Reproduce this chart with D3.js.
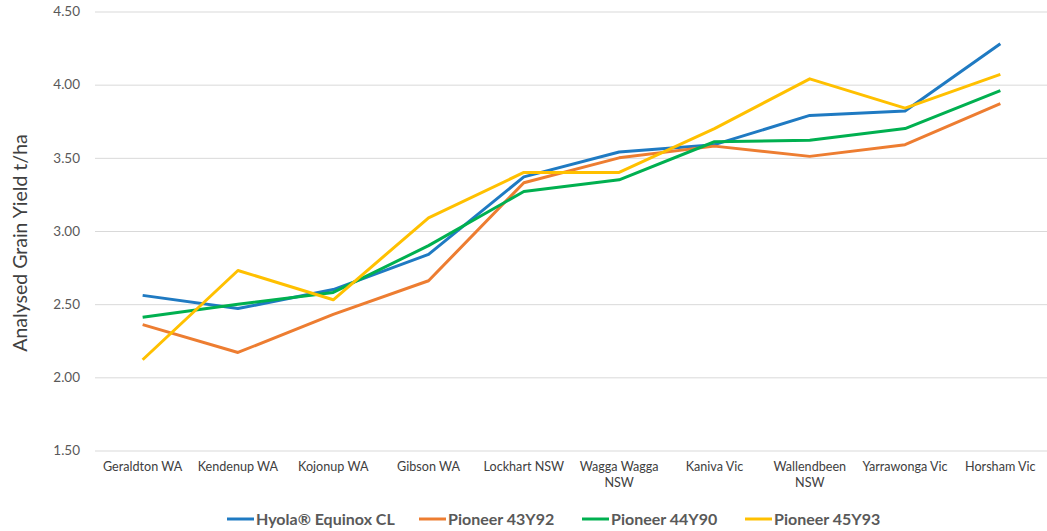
<!DOCTYPE html>
<html><head><meta charset="utf-8">
<script src="https://cdn.jsdelivr.net/npm/d3@7"></script>
<style>body{margin:0;background:#fff;} svg{display:block;font-family:Lato,"Open Sans",sans-serif;}</style>
</head><body>
<svg id="c" width="1047" height="531"></svg>
<script>
const categories = [["Geraldton WA"],["Kendenup WA"],["Kojonup WA"],["Gibson WA"],["Lockhart NSW"],["Wagga Wagga","NSW"],["Kaniva Vic"],["Wallendbeen","NSW"],["Yarrawonga Vic"],["Horsham Vic"]];
const seriesNames = ["Hyola® Equinox CL","Pioneer 43Y92","Pioneer 44Y90","Pioneer 45Y93"];
const hyola  = [2.56,2.47,2.60,2.84,3.37,3.54,3.59,3.79,3.82,4.28];
const p43y92 = [2.36,2.17,2.43,2.66,3.33,3.50,3.58,3.51,3.59,3.87];
const p44y90 = [2.41,2.50,2.58,2.90,3.27,3.35,3.61,3.62,3.70,3.96];
const p45y93 = [2.12,2.73,2.53,3.09,3.40,3.40,3.70,4.04,3.84,4.07];
const yTicks = [1.5,2.0,2.5,3.0,3.5,4.0,4.5];
const colors = ["#1F7AC2","#ED7D31","#00B050","#FFC000"];
const seriesVals = [hyola,p43y92,p44y90,p45y93];

const svg = d3.select("#c");
const x = d3.scaleBand().domain(d3.range(categories.length)).range([95,1048]);
const y = d3.scaleLinear().domain([1.5,4.5]).range([450.5,11.5]);

// gridlines
const yAxis = d3.axisLeft(y).tickValues(yTicks).tickFormat(d3.format(".2f")).tickSize(-(1048-95)).tickPadding(15);
const ga = svg.append("g").attr("transform","translate(95,0)").call(yAxis);
ga.select(".domain").remove();
ga.selectAll(".tick line").attr("stroke","#d9d9d9").attr("stroke-width",1);
ga.selectAll(".tick text").attr("fill","#595959").style("font-size","13.5px").style("font-family","Lato,'Open Sans',sans-serif");

// x labels
const gx = svg.append("g");
categories.forEach((c,i)=>{
  const t = gx.append("text").attr("x", x(i)+x.bandwidth()/2).attr("y",471)
    .attr("text-anchor","middle").attr("fill","#404040").style("font-size","12.6px");
  c.forEach((line,j)=>t.append("tspan").attr("x",x(i)+x.bandwidth()/2).attr("dy", j===0?0:16).text(line));
});

// y title
svg.append("text").attr("transform","translate(27,243) rotate(-90)").attr("text-anchor","middle")
  .attr("fill","#404040").style("font-size","19.5px").text("Analysed Grain Yield t/ha");

// lines
const line = d3.line().x((d,i)=>x(i)+x.bandwidth()/2).y(d=>y(d));
seriesVals.forEach((vals,k)=>{
  svg.append("path").datum(vals).attr("d",line).attr("fill","none")
    .attr("stroke",colors[k]).attr("stroke-width",3).attr("stroke-linejoin","round");
});

// legend
const legX = [227,419,582,745];
seriesNames.forEach((n,k)=>{
  const g = svg.append("g").attr("transform",`translate(${legX[k]},519)`);
  g.append("line").attr("x1",0).attr("x2",27).attr("y1",0).attr("y2",0).attr("stroke",colors[k]).attr("stroke-width",3);
  g.append("text").attr("x",29).attr("y",6).attr("fill","#595959").style("font-size","16px").style("font-weight","bold").text(n);
});
</script>
</body></html>
